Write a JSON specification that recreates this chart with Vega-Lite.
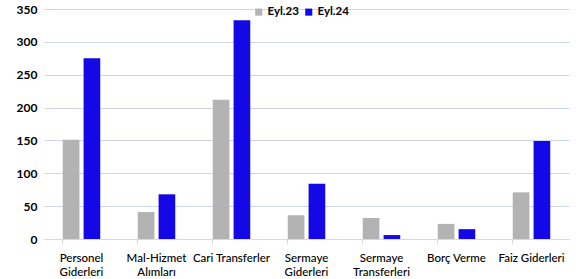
{
  "$schema": "https://vega.github.io/schema/vega-lite/v6.json",
  "width": 525,
  "height": 230,
  "autosize": "none",
  "padding": {"left": 44, "top": 9, "right": 12, "bottom": 40},
  "background": "white",
  "data": {
    "values": [
      {"kalem": "Personel Giderleri", "donem": "Eyl.23", "deger": 151},
      {"kalem": "Personel Giderleri", "donem": "Eyl.24", "deger": 275},
      {"kalem": "Mal-Hizmet Alımları", "donem": "Eyl.23", "deger": 41},
      {"kalem": "Mal-Hizmet Alımları", "donem": "Eyl.24", "deger": 68},
      {"kalem": "Cari Transferler", "donem": "Eyl.23", "deger": 212},
      {"kalem": "Cari Transferler", "donem": "Eyl.24", "deger": 333},
      {"kalem": "Sermaye Giderleri", "donem": "Eyl.23", "deger": 36},
      {"kalem": "Sermaye Giderleri", "donem": "Eyl.24", "deger": 84},
      {"kalem": "Sermaye Transferleri", "donem": "Eyl.23", "deger": 32},
      {"kalem": "Sermaye Transferleri", "donem": "Eyl.24", "deger": 6},
      {"kalem": "Borç Verme", "donem": "Eyl.23", "deger": 23},
      {"kalem": "Borç Verme", "donem": "Eyl.24", "deger": 15},
      {"kalem": "Faiz Giderleri", "donem": "Eyl.23", "deger": 71},
      {"kalem": "Faiz Giderleri", "donem": "Eyl.24", "deger": 149}
    ]
  },
  "mark": {"type": "bar"},
  "encoding": {
    "x": {
      "field": "kalem",
      "type": "nominal",
      "sort": null,
      "title": null,
      "scale": {"paddingInner": 0.5, "paddingOuter": 0.25},
      "axis": {
        "labelAngle": 0,
        "bandPosition": 0,
        "labelAlign": "center",
        "labelFont": "Lato",
        "labelFontSize": 11.5,
        "labelFontWeight": 500,
        "labelColor": "#000000",
        "labelPadding": 8,
        "labelLineHeight": 14,
        "labelExpr": "indexof(['Personel Giderleri','Mal-Hizmet Alımları','Sermaye Giderleri','Sermaye Transferleri'], datum.label) >= 0 ? split(datum.label, ' ') : datum.label",
        "domainColor": "#d9d9d9",
        "tickColor": "#d9d9d9",
        "tickSize": 5,
        "grid": false
      }
    },
    "xOffset": {
      "field": "donem",
      "type": "nominal",
      "scale": {"paddingInner": 0.2}
    },
    "y": {
      "field": "deger",
      "type": "quantitative",
      "title": null,
      "scale": {"domain": [0, 350], "nice": false},
      "axis": {
        "values": [0, 50, 100, 150, 200, 250, 300, 350],
        "labelFont": "Lato",
        "labelFontSize": 12,
        "labelFontWeight": "bold",
        "labelColor": "#000000",
        "labelPadding": 7,
        "ticks": false,
        "domain": false,
        "gridColor": "#cdd6ea",
        "gridWidth": 1.2
      }
    },
    "color": {
      "field": "donem",
      "type": "nominal",
      "scale": {"domain": ["Eyl.23", "Eyl.24"], "range": ["#b3b3b3", "#1409e6"]},
      "legend": {
        "title": null,
        "orient": "none",
        "direction": "horizontal",
        "legendX": 209,
        "legendY": -3,
        "symbolType": "square",
        "symbolSize": 50,
        "symbolStrokeWidth": 0,
        "labelFont": "Lato",
        "labelFontSize": 11.5,
        "labelFontWeight": "bold",
        "labelColor": "#000000",
        "labelOffset": 3,
        "columnPadding": 4
      }
    }
  },
  "config": {"view": {"stroke": null}}
}
